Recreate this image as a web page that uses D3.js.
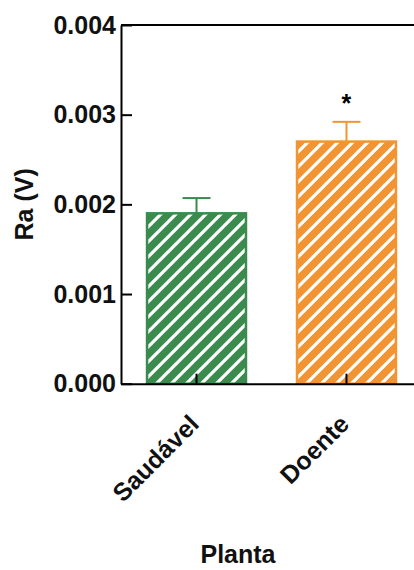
<!DOCTYPE html>
<html>
<head>
<meta charset="utf-8">
<script src="https://cdn.jsdelivr.net/npm/d3@7"></script>
<style>
  html, body { margin: 0; padding: 0; background: #fff; }
  svg { display: block; font-family: "Liberation Sans", Arial, sans-serif; font-weight: bold; }
</style>
</head>
<body>
<div id="chart"></div>
<script>
// data
const categories = ["Saudável", "Doente"];
const means = [0.0019, 0.0027];
const errors = [0.00017, 0.00022];
const signif = ["", "*"];
const yTicks = [0, 0.001, 0.002, 0.003, 0.004];
const colors = ["#3b8b4e", "#f29432"];

const width = 414, height = 570;
const margin = {top: 25, left: 121, bottom: 187, rightEdge: 422};

const svg = d3.select("#chart").append("svg")
    .attr("width", width)
    .attr("height", height);

const x = d3.scaleBand()
    .domain(categories)
    .range([margin.left, margin.rightEdge])
    .paddingInner(0.327)
    .paddingOuter(0.167);

const y = d3.scaleLinear()
    .domain([0, 0.004])
    .range([height - margin.bottom + 0.7, margin.top]);

// hatch patterns
const defs = svg.append("defs");
colors.forEach((c, i) => {
    const p = defs.append("pattern")
        .attr("id", "hatch" + i)
        .attr("patternUnits", "userSpaceOnUse")
        .attr("width", 15)
        .attr("height", 15);
    p.append("rect").attr("width", 15).attr("height", 15).attr("fill", c);
    p.append("path")
        .attr("d", "M-4,4 L4,-4 M0,15 L15,0 M11,19 L19,11")
        .attr("stroke", "#fff")
        .attr("stroke-width", 3.2);
});

// bars
svg.append("g").selectAll("rect")
    .data(categories)
    .join("rect")
    .attr("x", d => x(d) + 1)
    .attr("y", (d, i) => y(means[i]))
    .attr("width", x.bandwidth() - 2)
    .attr("height", (d, i) => y(0) - y(means[i]))
    .attr("fill", (d, i) => `url(#hatch${i})`)
    .attr("stroke", (d, i) => colors[i])
    .attr("stroke-width", 2.5);

// error bars
const eb = svg.append("g").selectAll("g")
    .data(categories)
    .join("g")
    .attr("stroke", (d, i) => colors[i])
    .attr("stroke-width", 2);
eb.append("line")
    .attr("x1", d => x(d) + x.bandwidth() / 2)
    .attr("x2", d => x(d) + x.bandwidth() / 2)
    .attr("y1", (d, i) => y(means[i]))
    .attr("y2", (d, i) => y(means[i] + errors[i]));
eb.append("line")
    .attr("x1", d => x(d) + x.bandwidth() / 2 - 14)
    .attr("x2", d => x(d) + x.bandwidth() / 2 + 14)
    .attr("y1", (d, i) => y(means[i] + errors[i]))
    .attr("y2", (d, i) => y(means[i] + errors[i]));

// significance mark
svg.append("g").selectAll("text")
    .data(categories)
    .join("text")
    .attr("x", d => x(d) + x.bandwidth() / 2)
    .attr("y", (d, i) => y(means[i] + errors[i]) - 10)
    .attr("text-anchor", "middle")
    .attr("font-size", 25)
    .text((d, i) => signif[i]);

// top frame line
svg.append("line")
    .attr("x1", margin.left).attr("x2", margin.rightEdge)
    .attr("y1", y(0.004)).attr("y2", y(0.004))
    .attr("stroke", "#000").attr("stroke-width", 2);

// y axis
svg.append("g")
    .attr("transform", `translate(${margin.left},0)`)
    .call(d3.axisLeft(y).tickValues(yTicks).tickFormat(d3.format(".3f"))
        .tickSizeInner(-11).tickSizeOuter(0).tickPadding(5))
    .call(g => g.selectAll("path, line").attr("stroke", "#000").attr("stroke-width", 2))
    .call(g => g.selectAll("text").attr("font-size", 25).attr("fill", "#111")
        .attr("font-family", "'Liberation Sans', Arial, sans-serif").attr("font-weight", "bold"));

// x axis
svg.append("g")
    .attr("transform", `translate(0,${y(0)})`)
    .call(d3.axisBottom(x).tickSizeInner(-10).tickSizeOuter(0))
    .call(g => g.selectAll("path, line").attr("stroke", "#000").attr("stroke-width", 2))
    .call(g => g.selectAll("text")
        .attr("x", 0).attr("y", 0).attr("dy", 0)
        .attr("transform", "translate(4,42) rotate(-45)")
        .attr("text-anchor", "end")
        .attr("font-size", 25).attr("fill", "#111")
        .attr("font-family", "'Liberation Sans', Arial, sans-serif").attr("font-weight", "bold"));

// axis titles
svg.append("text")
    .attr("transform", `translate(33,${(y(0) + y(0.004)) / 2}) rotate(-90)`)
    .attr("text-anchor", "middle")
    .attr("font-size", 25)
    .attr("fill", "#111")
    .text("Ra (V)");

svg.append("text")
    .attr("x", 238)
    .attr("y", 563)
    .attr("text-anchor", "middle")
    .attr("font-size", 25)
    .attr("fill", "#111")
    .text("Planta");
</script>
</body>
</html>
